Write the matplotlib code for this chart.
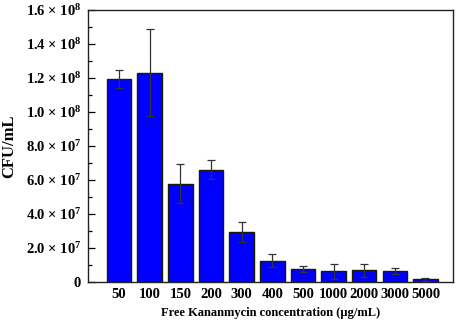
import matplotlib
matplotlib.use("Agg")
import matplotlib.pyplot as plt
from matplotlib.ticker import MultipleLocator, FixedLocator

categories = ["50", "100", "150", "200", "300", "400", "500", "1000", "2000", "3000", "5000"]
values = [1.194e8, 1.231e8, 5.77e7, 6.6e7, 2.94e7, 1.24e7, 7.9e6, 6.3e6, 6.9e6, 6.5e6, 1.6e6]
errors = [5.1e6, 2.55e7, 1.15e7, 5.5e6, 5.8e6, 3.8e6, 1.8e6, 4.5e6, 3.9e6, 2.0e6, 1.0e6]
ytick_vals = [0, 2e7, 4e7, 6e7, 8e7, 1.0e8, 1.2e8, 1.4e8, 1.6e8]
ytick_labels = ["0", r"2.0 $\times$ 10$^{7}$", r"4.0 $\times$ 10$^{7}$", r"6.0 $\times$ 10$^{7}$",
                r"8.0 $\times$ 10$^{7}$", r"1.0 $\times$ 10$^{8}$", r"1.2 $\times$ 10$^{8}$",
                r"1.4 $\times$ 10$^{8}$", r"1.6 $\times$ 10$^{8}$"]

plt.rcParams['font.family'] = ['Liberation Serif', 'DejaVu Serif']
plt.rcParams['font.weight'] = 'bold'
plt.rcParams['mathtext.fontset'] = 'custom'
plt.rcParams['mathtext.rm'] = 'Liberation Serif:bold'
plt.rcParams['mathtext.it'] = 'Liberation Serif:bold'
plt.rcParams['mathtext.bf'] = 'Liberation Serif:bold'
plt.rcParams['mathtext.default'] = 'rm'

fig = plt.figure(figsize=(4.59, 3.21), dpi=100)
ax = fig.add_axes([88/459, 1 - 282/321, (453-88)/459, (282-10)/321])

x = list(range(len(categories)))
ax.bar(x, values, width=0.8, color='#0000ff', edgecolor='#1a1a00', linewidth=1.0, zorder=2)
ax.errorbar(x, values, yerr=errors, fmt='none', ecolor='#333333', elinewidth=0.9,
            capsize=3, capthick=0.9, zorder=3)

ax.set_xlim(-1.015, 10.9)
ax.set_ylim(0, 1.6e8)
ax.set_xticks(x)
ax.set_xticklabels(categories, fontsize=10.5, fontweight='bold')
ax.tick_params(axis='x', length=0, pad=4)
ax.yaxis.set_major_locator(FixedLocator(ytick_vals))
ax.set_yticklabels(ytick_labels, fontsize=10.5)
ax.yaxis.set_minor_locator(MultipleLocator(1e7))
ax.tick_params(axis='y', which='major', direction='in', length=5, width=0.9, pad=5)
ax.tick_params(axis='y', which='minor', direction='in', length=3, width=0.9)
for s in ax.spines.values():
    s.set_linewidth(1.0)
    s.set_color('#222222')

ax.set_xlabel("Free Kananmycin concentration (\u03bcg/mL)", fontsize=9, fontweight='bold', labelpad=4.5)
ax.set_ylabel("CFU/mL", fontsize=12, fontweight='bold', labelpad=6)

fig.savefig("out.png", dpi=100)
